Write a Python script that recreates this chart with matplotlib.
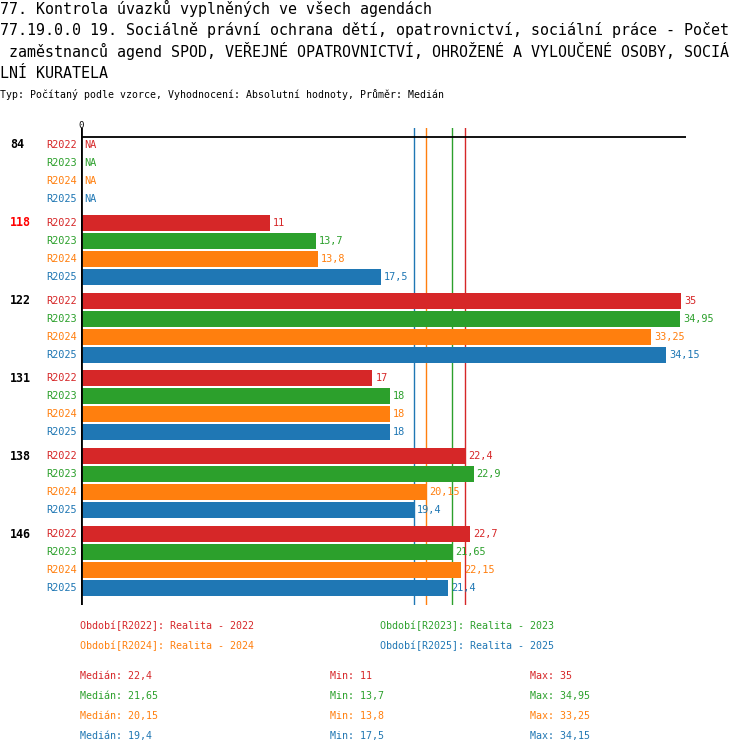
import numpy as np
import matplotlib
matplotlib.use("Agg")
import matplotlib.pyplot as plt

plt.rcParams['font.family'] = ['DejaVu Sans Mono']

# data
categories = ["84", "118", "122", "131", "138", "146"]
cat_colors = ["black", "#ff0000", "black", "black", "black", "black"]
series = ["R2022", "R2023", "R2024", "R2025"]
colors = ["#d62728", "#2ca02c", "#ff7f0e", "#1f77b4"]
values = {
    "R2022": [None, 11, 35, 17, 22.4, 22.7],
    "R2023": [None, 13.7, 34.95, 18, 22.9, 21.65],
    "R2024": [None, 13.8, 33.25, 18, 20.15, 22.15],
    "R2025": [None, 17.5, 34.15, 18, 19.4, 21.4],
}
medians = [22.4, 21.65, 20.15, 19.4]
mins = [11, 13.7, 13.8, 17.5]
maxs = [35, 34.95, 33.25, 34.15]
legend_names = ["Realita - 2022", "Realita - 2023", "Realita - 2024", "Realita - 2025"]

title_lines = [
    "77. Kontrola úvazků vyplněných ve všech agendách",
    "77.19.0.0 19. Sociálně právní ochrana dětí, opatrovnictví, sociální práce - Počet",
    " zaměstnanců agend SPOD, VEŘEJNÉ OPATROVNICTVÍ, OHROŽENÉ A VYLOUČENÉ OSOBY, SOCIÁ",
    "LNÍ KURATELA",
]
subtitle = "Typ: Počítaný podle vzorce, Vyhodnocení: Absolutní hodnoty, Průměr: Medián"

W, H = 750, 754


def fmt(v):
    return ("%g" % v).replace(".", ",")


def px(x, y):
    return x / W, 1 - y / H


fig = plt.figure(figsize=(W / 100, H / 100), dpi=100)

# axes in pixel layout: x from 81 to 686, y from 128 to 605
ax = fig.add_axes([81 / W, 1 - 605 / H, (686 - 81) / W, (605 - 128) / H])
ax.set_xlim(0, 605 / (600 / 35))
ax.set_ylim(605, 128)
ax.axis("off")

ax.axvline(0, color="black", lw=2, zorder=5)
ax.plot([0, 1], [137, 137], transform=ax.get_yaxis_transform(), color="black", lw=1.3)
for m, c in zip(medians, colors):
    ax.axvline(m, color=c, lw=1, zorder=1)

group_start = 145
group_pitch = 77.8
row_pitch = 18

for i, cat in enumerate(categories):
    y0 = group_start + i * group_pitch
    ax.annotate(cat, xy=(0, y0), xytext=(-71, 0), textcoords="offset pixels",
                ha="left", va="center", fontsize=8.4, fontweight="bold",
                color=cat_colors[i], annotation_clip=False)
    for j, s in enumerate(series):
        y = y0 + j * row_pitch
        v = values[s][i]
        ax.annotate(s, xy=(0, y), xytext=(-4, 0), textcoords="offset pixels",
                    ha="right", va="center", fontsize=7.4, color=colors[j],
                    annotation_clip=False)
        if v is None:
            ax.annotate("NA", xy=(0, y), xytext=(3, 0), textcoords="offset pixels",
                        ha="left", va="center", fontsize=7.4, color=colors[j])
        else:
            ax.barh(y, v, height=16, color=colors[j], zorder=3)
            ax.annotate(fmt(v), xy=(v, y), xytext=(3, 0), textcoords="offset pixels",
                        ha="left", va="center", fontsize=7.4, color=colors[j],
                        annotation_clip=False)

ax.annotate("0", xy=(0, 137), xytext=(0, 12), textcoords="offset pixels",
            ha="center", va="center", fontsize=6.5, color="black", annotation_clip=False)

# titles
for k, line in enumerate(title_lines):
    fig.text(*px(0, 8 + k * 21.7), line, ha="left", va="center", fontsize=10.8)
fig.text(*px(0, 95), subtitle, ha="left", va="center", fontsize=7.1)

# legend
leg_pos = [(80, 626), (380, 626), (80, 646), (380, 646)]
for (x, y), s, name, c in zip(leg_pos, series, legend_names, colors):
    fig.text(*px(x, y), "Období[%s]: %s" % (s, name), ha="left", va="center",
             fontsize=7.2, color=c)

# stats
for j, c in enumerate(colors):
    y = 676 + j * 20
    fig.text(*px(80, y), "Medián: " + fmt(medians[j]), ha="left", va="center", fontsize=7.2, color=c)
    fig.text(*px(330, y), "Min: " + fmt(mins[j]), ha="left", va="center", fontsize=7.2, color=c)
    fig.text(*px(530, y), "Max: " + fmt(maxs[j]), ha="left", va="center", fontsize=7.2, color=c)

fig.savefig("out.png", dpi=100)
